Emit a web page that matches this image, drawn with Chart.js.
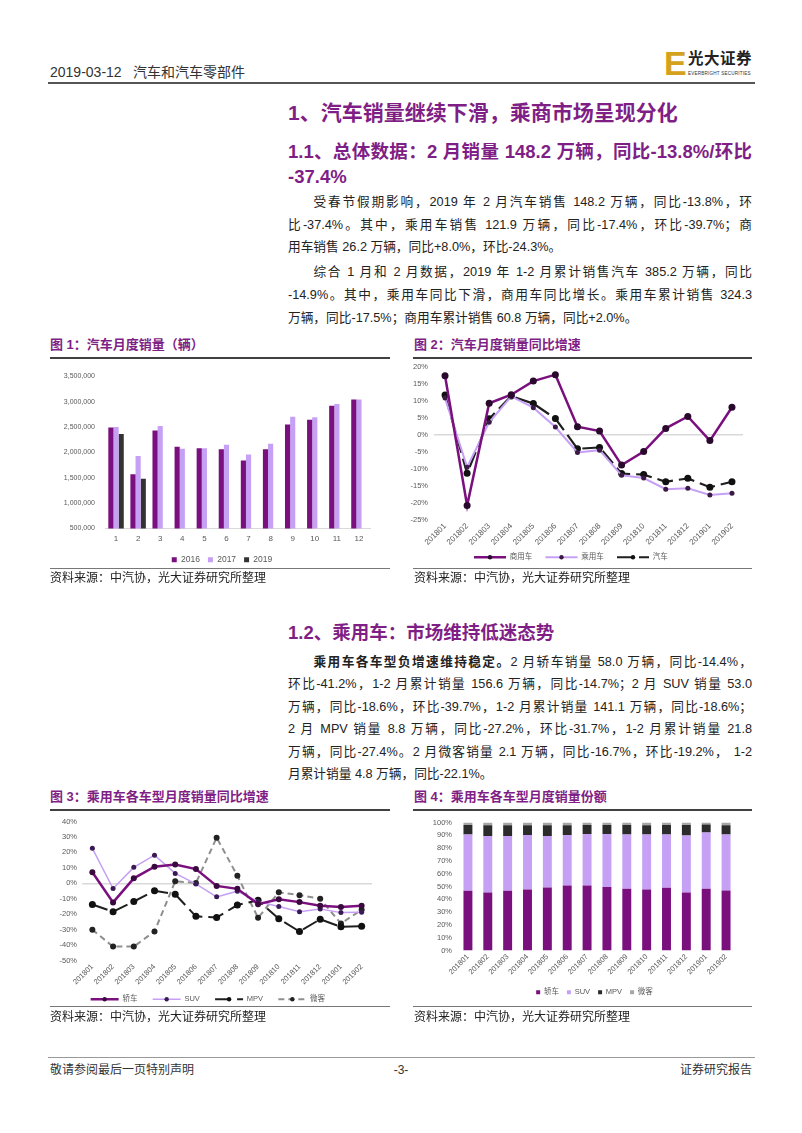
<!DOCTYPE html>
<html>
<head>
<meta charset="utf-8">
<script src="https://cdn.jsdelivr.net/npm/chart.js@4.4.1/dist/chart.umd.min.js"></script>
<style>
  body { margin: 0; background: #fff; }
  #page { position: relative; width: 802px; height: 1133px; overflow: hidden;
    font-family: "Liberation Sans", "Noto Sans CJK SC", sans-serif; color: #222; }
  .abs { position: absolute; }
  .hd { font-size: 14px; color: #333; top: 63px; line-height: 18px; }
  .h1 { left: 288px; font-size: 21px; font-weight: bold; color: #7f1f86; line-height: 26px; }
  .h2 { left: 288px; width: 464px; font-size: 18.5px; font-weight: bold; color: #7f1f86; line-height: 24px; }
  .ln { position: absolute; left: 288px; width: 464px; font-size: 12.7px; line-height: 16px; height: 16px;
    text-align: justify; text-align-last: justify; }
  .ln.last { text-align-last: left; }
  .ind { text-indent: 25.5px; }
  .cap { font-size: 13px; font-weight: bold; color: #7f1f86; line-height: 16px; }
  .thick { height: 2px; background: #404040; }
  .thin { height: 1px; background: #777; }
  .src { font-size: 12px; color: #222; line-height: 14px; }
  .ft { font-size: 12px; color: #333; line-height: 14px; top: 1063px; }
  canvas { display: block; }
</style>
</head>
<body>
<div id="page">
  <!-- header -->
  <div class="abs hd" style="left:50px;">2019-03-12</div>
  <div class="abs hd" style="left:133px;">汽车和汽车零部件</div>
  <div class="abs" style="left:664px;top:46px;font-size:34px;font-weight:900;color:#d4a21c;line-height:34px;">E</div>
  <div class="abs" style="left:688px;top:50px;font-size:15.5px;font-weight:bold;color:#222;line-height:18px;letter-spacing:0.5px;">光大证券</div>
  <div class="abs" style="left:688px;top:71px;font-size:4.6px;color:#333;line-height:6px;letter-spacing:0.2px;">EVERBRIGHT SECURITIES</div>
  <div class="abs" style="left:48px;top:82px;width:707px;height:1.5px;background:#555;"></div>

  <!-- section 1 -->
  <div class="abs h1" style="top:100px;">1、汽车销量继续下滑，乘商市场呈现分化</div>
  <div class="abs h2" style="top:140px;text-align:justify;text-align-last:justify;">1.1、总体数据：2 月销量 148.2 万辆，同比-13.8%/环比</div>
  <div class="abs h2" style="top:165px;">-37.4%</div>

  <div class="ln ind" style="top:194px;">受春节假期影响，2019 年 2 月汽车销售 148.2 万辆，同比-13.8%，环</div>
  <div class="ln" style="top:217px;">比-37.4%。其中，乘用车销售 121.9 万辆，同比-17.4%，环比-39.7%；商</div>
  <div class="ln last" style="top:239px;">用车销售 26.2 万辆，同比+8.0%，环比-24.3%。</div>

  <div class="ln ind" style="top:264px;">综合 1 月和 2 月数据，2019 年 1-2 月累计销售汽车 385.2 万辆，同比</div>
  <div class="ln" style="top:287px;">-14.9%。其中，乘用车同比下滑，商用车同比增长。乘用车累计销售 324.3</div>
  <div class="ln last" style="top:310px;">万辆，同比-17.5%；商用车累计销售 60.8 万辆，同比+2.0%。</div>

  <div class="abs cap" style="left:50px;top:337px;">图 1：汽车月度销量（辆）</div>
  <div class="abs cap" style="left:414px;top:337px;">图 2：汽车月度销量同比增速</div>
  <div class="abs thick" style="left:50px;top:357px;width:340px;"></div>
  <div class="abs thick" style="left:413px;top:357px;width:339px;"></div>

  <div class="abs" style="left:50px;top:362px;width:340px;height:212px;"><canvas id="c1"></canvas></div>
  <div class="abs" style="left:405px;top:356px;width:348px;height:215px;"><canvas id="c2"></canvas></div>

  <div class="abs thin" style="left:50px;top:568px;width:340px;"></div>
  <div class="abs thin" style="left:413px;top:568px;width:339px;"></div>
  <div class="abs src" style="left:50px;top:571px;">资料来源：中汽协，光大证券研究所整理</div>
  <div class="abs src" style="left:414px;top:571px;">资料来源：中汽协，光大证券研究所整理</div>

  <!-- section 1.2 -->
  <div class="abs h2" style="top:621px;">1.2、乘用车：市场维持低迷态势</div>
  <div class="ln ind" style="top:654px;"><b>乘用车各车型负增速维持稳定。</b>2 月轿车销量 58.0 万辆，同比-14.4%，</div>
  <div class="ln" style="top:676px;">环比-41.2%，1-2 月累计销量 156.6 万辆，同比-14.7%；2 月 SUV 销量 53.0</div>
  <div class="ln" style="top:699px;">万辆，同比-18.6%，环比-39.7%，1-2 月累计销量 141.1 万辆，同比-18.6%；</div>
  <div class="ln" style="top:721px;">2 月 MPV 销量 8.8 万辆，同比-27.2%，环比-31.7%，1-2 月累计销量 21.8</div>
  <div class="ln" style="top:744px;">万辆，同比-27.4%。2 月微客销量 2.1 万辆，同比-16.7%，环比-19.2%， 1-2</div>
  <div class="ln last" style="top:766px;">月累计销量 4.8 万辆，同比-22.1%。</div>

  <div class="abs cap" style="left:50px;top:789px;">图 3：乘用车各车型月度销量同比增速</div>
  <div class="abs cap" style="left:414px;top:789px;">图 4：乘用车各车型月度销量份额</div>
  <div class="abs thick" style="left:50px;top:809px;width:340px;"></div>
  <div class="abs thick" style="left:413px;top:809px;width:339px;"></div>

  <div class="abs" style="left:50px;top:812px;width:340px;height:201px;"><canvas id="c3"></canvas></div>
  <div class="abs" style="left:413px;top:812px;width:340px;height:194px;"><canvas id="c4"></canvas></div>

  <div class="abs thin" style="left:50px;top:1006px;width:340px;"></div>
  <div class="abs thin" style="left:413px;top:1006px;width:339px;"></div>
  <div class="abs src" style="left:50px;top:1010px;">资料来源：中汽协，光大证券研究所整理</div>
  <div class="abs src" style="left:414px;top:1010px;">资料来源：中汽协，光大证券研究所整理</div>

  <!-- footer -->
  <div class="abs" style="left:48px;top:1057px;width:707px;height:1px;background:#999;"></div>
  <div class="abs ft" style="left:50px;">敬请参阅最后一页特别声明</div>
  <div class="abs ft" style="left:390px;width:22px;text-align:center;">-3-</div>
  <div class="abs ft" style="right:50px;">证券研究报告</div>
</div>

<script>
// fig 1: monthly sales (vehicles)
const months = ['1', '2', '3', '4', '5', '6', '7', '8', '9', '10', '11', '12'];
const sales2016 = [2490000, 1570000, 2430000, 2110000, 2080000, 2060000, 1840000, 2060000, 2550000, 2640000, 2920000, 3040000];
const sales2017 = [2500000, 1930000, 2520000, 2070000, 2080000, 2150000, 1960000, 2170000, 2700000, 2690000, 2950000, 3040000];
const sales2019 = [2360000, 1480000, null, null, null, null, null, null, null, null, null, null];

// fig 2: yoy growth (%)
const ym = ['201801', '201802', '201803', '201804', '201805', '201806', '201807',
  '201808', '201809', '201810', '201811', '201812', '201901', '201902'];
const commercialYoy = [17.3, -20.9, 9.2, 11.7, 15.7, 17.6, 2.3, 1.0, -9.0, -5.0, 1.8, 5.3, -1.8, 8.0];
const passengerYoy = [10.7, -9.6, 3.6, 11.2, 7.9, 2.2, -5.3, -4.6, -12.0, -12.8, -16.1, -15.8, -17.8, -17.3];
const totalYoy = [11.6, -11.4, 4.6, 11.3, 9.1, 4.7, -4.2, -3.8, -11.5, -11.8, -13.9, -12.9, -15.5, -13.9];

// fig 3: yoy by body type (%)
const sedanYoy = [7.1, -12.4, 3.2, 10.7, 12.2, 9.2, -1.7, -3.6, -13.5, -10.3, -12.2, -14.5, -15.4, -14.5];
const suvYoy = [22.6, -3.4, 10.3, 18.2, 6.4, -0.4, -8.8, -5.1, -11.8, -15.0, -18.4, -16.7, -19.0, -18.8];
const mpvYoy = [-13.7, -18.4, -11.8, -4.9, -7.1, -21.4, -22.2, -14.1, -11.0, -23.0, -31.2, -23.3, -28.2, -27.8];
const minivanYoy = [-30.1, -41.0, -41.0, -31.2, 1.3, 0.2, 29.5, 4.9, -22.4, -5.8, -7.7, -10.0, -26.1, -17.1];

// fig 4: share by body type (%)
const sedanShare = [46.7, 45.4, 46.7, 47.7, 49.2, 50.8, 50.8, 49.7, 48.2, 47.7, 49.0, 45.4, 48.2, 46.9];
const suvShare = [43.9, 44.1, 42.8, 42.6, 40.3, 39.5, 40.3, 41.4, 42.4, 42.9, 41.6, 44.4, 43.9, 43.7];
const mpvShare = [7.4, 8.4, 8.4, 7.6, 8.3, 7.6, 6.9, 6.9, 7.4, 7.3, 7.4, 8.2, 6.3, 7.3];
const minivanShare = [2.0, 2.1, 2.1, 2.1, 2.2, 2.1, 2.0, 2.0, 2.0, 2.1, 2.0, 2.0, 1.6, 2.1];

const PURPLE = '#7a0f7e';
const LILAC = '#c6a0f5';

Chart.defaults.font.family = '"Liberation Sans", "Noto Sans CJK SC", sans-serif';
Chart.defaults.color = '#595959';
Chart.defaults.animation = false;
Chart.defaults.maintainAspectRatio = false;
Chart.defaults.plugins.tooltip.enabled = false;

// legend entries drawn as short line segments in the series style
const lineLegendLabels = chart => chart.data.datasets.map((ds, i) => ({
  text: ds.label + '   ',
  fillStyle: ds.borderColor,
  strokeStyle: ds.borderColor,
  lineWidth: ds.borderWidth,
  lineDash: ds.borderDash || [],
  pointStyle: 'line',
  fontColor: '#595959',
  hidden: false,
  datasetIndex: i
}));

// the little marker in the middle of those legend lines
const legendDots = {
  id: 'legendDots',
  afterDraw(chart) {
    const lg = chart.legend;
    const w = lg.options.labels.pointStyleWidth;
    const ctx = chart.ctx;
    lg.legendHitBoxes.forEach((b, i) => {
      const ds = chart.data.datasets[i];
      ctx.save();
      ctx.fillStyle = ds.pointBackgroundColor;
      ctx.beginPath();
      ctx.arc(b.left + w / 2, b.top + b.height / 2, 2.2, 0, Math.PI * 2);
      ctx.fill();
      ctx.restore();
    });
  }
};

// nudges a legend sideways (the source legends are not centred on the canvas)
const shiftLegend = dx => ({
  id: 'shiftLegend',
  afterLayout(chart) {
    chart.legend.left += dx;
    chart.legend.right += dx;
  }
});

const pct = v => v + '%';
const zeroLine = ctx => ctx.tick.value === 0 ? '#d9d9d9' : 'rgba(0,0,0,0)';

new Chart(document.getElementById('c1'), {
  type: 'bar',
  data: {
    labels: months,
    datasets: [
      { label: '2016', data: sales2016, backgroundColor: PURPLE },
      { label: '2017', data: sales2017, backgroundColor: LILAC },
      { label: '2019', data: sales2019, backgroundColor: '#333333' }
    ]
  },
  plugins: [shiftLegend(12)],
  options: {
    layout: { padding: { top: 10, right: 20, left: 0, bottom: 0 } },
    datasets: { bar: { categoryPercentage: 0.7, barPercentage: 1 } },
    scales: {
      x: {
        grid: { display: false, drawTicks: false },
        border: { color: '#d9d9d9' },
        ticks: { font: { size: 8 }, padding: 5 },
        afterFit: s => { s.height = 19; }
      },
      y: {
        min: 500000, max: 3500000,
        grid: { display: false, drawTicks: false },
        border: { display: false },
        ticks: { stepSize: 500000, font: { size: 7 }, padding: 10,
          callback: v => v.toLocaleString('en-US') },
        afterFit: s => { s.width = 55; }
      }
    },
    plugins: {
      legend: { position: 'bottom',
        labels: { boxWidth: 5, boxHeight: 5, font: { size: 8.5 }, padding: 8, color: '#595959' } }
    }
  }
});

new Chart(document.getElementById('c2'), {
  type: 'line',
  data: {
    labels: ym,
    datasets: [
      { label: '商用车', data: commercialYoy, borderColor: PURPLE, borderWidth: 2.5,
        pointBackgroundColor: '#2a0a2c', pointBorderWidth: 0, pointRadius: 3.5 },
      { label: '乘用车', data: passengerYoy, borderColor: LILAC, borderWidth: 2,
        pointBackgroundColor: '#3a1a45', pointBorderWidth: 0, pointRadius: 2.5 },
      { label: '汽车', data: totalYoy, borderColor: '#1f1f1f', borderWidth: 2.2, borderDash: [16, 6],
        pointBackgroundColor: '#111111', pointBorderWidth: 0, pointRadius: 3.5 }
    ]
  },
  plugins: [legendDots],
  options: {
    layout: { padding: { top: 8, right: 10, left: 0, bottom: 0 } },
    scales: {
      x: {
        offset: true,
        grid: { display: false, drawTicks: false },
        border: { display: false },
        ticks: { font: { size: 8 }, padding: 2, minRotation: 45, maxRotation: 45, autoSkip: false },
        afterFit: s => { s.height = 27; }
      },
      y: {
        min: -25, max: 20,
        grid: { color: zeroLine, drawTicks: false, lineWidth: 1.5 },
        border: { display: false },
        ticks: { stepSize: 5, font: { size: 7.5 }, padding: 6, callback: pct },
        afterFit: s => { s.width = 29; }
      }
    },
    plugins: {
      legend: { position: 'bottom',
        labels: { usePointStyle: true, pointStyle: 'line', pointStyleWidth: 32,
          generateLabels: lineLegendLabels,
          font: { size: 7.5 }, padding: 7, color: '#595959' } }
    }
  }
});

new Chart(document.getElementById('c3'), {
  type: 'line',
  data: {
    labels: ym,
    datasets: [
      { label: '轿车', data: sedanYoy, borderColor: PURPLE, borderWidth: 2.5,
        pointBackgroundColor: '#3a0a3e', pointBorderWidth: 0, pointRadius: 3 },
      { label: 'SUV', data: suvYoy, borderColor: LILAC, borderWidth: 1.5,
        pointBackgroundColor: '#3a1a55', pointBorderWidth: 0, pointRadius: 2.5 },
      { label: 'MPV', data: mpvYoy, borderColor: '#1f1f1f', borderWidth: 2, borderDash: [16, 6],
        pointBackgroundColor: '#111111', pointBorderWidth: 0, pointRadius: 3.5 },
      { label: '微客', data: minivanYoy, borderColor: '#8f8f8f', borderWidth: 2, borderDash: [6, 4],
        pointBackgroundColor: '#222222', pointBorderWidth: 0, pointRadius: 3 }
    ]
  },
  plugins: [legendDots],
  options: {
    layout: { padding: { top: 7, right: 18, left: 0, bottom: 0 } },
    scales: {
      x: {
        offset: true,
        grid: { display: false, drawTicks: false },
        border: { display: false },
        ticks: { font: { size: 7.5 }, padding: 2, minRotation: 45, maxRotation: 45, autoSkip: false },
        afterFit: s => { s.height = 26; }
      },
      y: {
        min: -50, max: 40,
        grid: { color: zeroLine, drawTicks: false, lineWidth: 1.5 },
        border: { display: false },
        ticks: { stepSize: 10, font: { size: 7.5 }, padding: 5, callback: pct },
        afterFit: s => { s.width = 32; }
      }
    },
    plugins: {
      legend: { position: 'bottom',
        labels: { usePointStyle: true, pointStyle: 'line', pointStyleWidth: 28,
          generateLabels: lineLegendLabels,
          font: { size: 7.5 }, padding: 9, color: '#595959' } }
    }
  }
});

new Chart(document.getElementById('c4'), {
  type: 'bar',
  data: {
    labels: ym,
    datasets: [
      { label: '轿车', data: sedanShare, backgroundColor: PURPLE },
      { label: 'SUV', data: suvShare, backgroundColor: LILAC },
      { label: 'MPV', data: mpvShare, backgroundColor: '#2b2b2b' },
      { label: '微客', data: minivanShare, backgroundColor: '#a6a6a6' }
    ]
  },
  plugins: [shiftLegend(20)],
  options: {
    layout: { padding: { top: 7, right: 17, left: 0, bottom: 0 } },
    datasets: { bar: { categoryPercentage: 1, barPercentage: 0.45 } },
    scales: {
      x: {
        stacked: true,
        grid: { display: false, drawTicks: false },
        border: { display: false },
        ticks: { font: { size: 7.5 }, padding: 2, minRotation: 45, maxRotation: 45, autoSkip: false },
        afterFit: s => { s.height = 30; }
      },
      y: {
        stacked: true, min: 0, max: 100,
        grid: { display: false, drawTicks: false },
        border: { display: false },
        ticks: { stepSize: 10, font: { size: 7.5 }, padding: 6, callback: pct },
        afterFit: s => { s.width = 45; }
      }
    },
    plugins: {
      legend: { position: 'bottom',
        labels: { boxWidth: 4, boxHeight: 4, font: { size: 7.5 }, padding: 8, color: '#595959' } }
    }
  }
});
</script>
</body>
</html>
